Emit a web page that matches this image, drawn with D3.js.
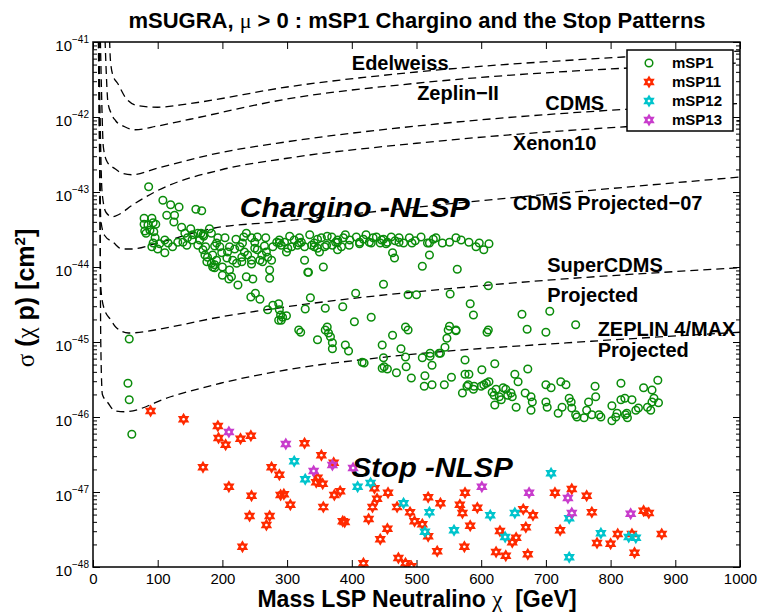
<!DOCTYPE html>
<html>
<head>
<meta charset="utf-8">
<script src="https://cdn.jsdelivr.net/npm/d3@7"></script>
<style>
  body { margin: 0; background: #fff; }
  text { font-family: "Liberation Sans", Arial, Helvetica, sans-serif; }
</style>
</head>
<body>
<svg></svg>
<script>
// limit curves: [mass GeV, log10(sigma / cm^2)]
const edelweiss = [[25,-40.8],[27,-41.25],[31,-41.45],[38,-41.55],[51,-41.75],[70,-41.85],[100,-41.87],[150,-41.82],[300,-41.6],[500,-41.4],[820,-41.2],[1000,-41.12]]
const zeplin2 = [[18,-40.8],[20,-41.3],[23,-41.8],[28,-41.95],[35,-42.05],[49,-42.13],[65,-42.17],[100,-42.12],[150,-42.03],[300,-41.76],[500,-41.55],[820,-41.35],[1000,-41.28]]
const cdms = [[11,-40.8],[13,-41.6],[16,-42.4],[22,-42.6],[34,-42.69],[45,-42.75],[60,-42.77],[100,-42.68],[200,-42.47],[300,-42.33],[500,-42.12],[800,-41.91],[1000,-41.82]]
const xenon10 = [[9,-40.8],[11,-42.0],[14,-43.0],[20,-43.27],[30,-43.33],[40,-43.3],[60,-43.18],[100,-42.98],[200,-42.7],[300,-42.55],[500,-42.35],[823,-42.13],[1000,-42.05]]
const cdmsProj07 = [[8,-40.8],[10,-42.2],[12,-43.37],[18,-43.58],[31,-43.67],[45,-43.76],[60,-43.76],[100,-43.68],[188,-43.48],[282,-43.4],[560,-43.15],[1000,-42.8]]
const superCdms = [[9,-40.8],[11,-43.5],[12,-44.27],[17,-44.55],[28,-44.71],[35,-44.8],[55,-44.88],[120,-44.8],[188,-44.68],[300,-44.53],[600,-44.25],[1000,-44.01]]
const zeplinMax = [[9,-40.8],[11,-43.5],[12,-45.0],[14.5,-45.7],[23,-45.81],[34,-45.92],[49,-45.93],[120,-45.73],[197,-45.55],[300,-45.37],[442,-45.21],[770,-44.99],[1000,-44.87]]

// model points: [mass GeV, log10(sigma / cm^2)]
const msp1 = [
  [56,-44.96],[54,-45.55],[56,-45.77],[60,-46.23],
  [86,-42.93],[108,-43.11],[120,-43.17],[133,-43.2],[159,-43.23],[168,-43.25],[114,-43.31],[126,-43.31],
  [79,-43.35],[91,-43.35],[79,-43.43],[85,-43.44],[93,-43.41],[97,-43.43],[80,-43.52],[88,-43.51],[94,-43.53],
  [125,-43.4],[137,-43.47],[151,-43.49],[142,-43.55],[167,-43.55],[170,-43.57],[180,-43.49],[183,-43.55],
  [193,-43.61],[191,-43.68],[96,-43.61],[111,-43.64],[103,-43.69],[91,-43.73],[100,-43.76],[111,-43.81],
  [123,-43.73],[139,-43.67],[153,-43.64],[145,-43.71],[162,-43.71],[165,-43.64],[170,-43.77],[173,-43.84],
  [177,-43.87],[176,-43.93],[183,-43.95],[185,-44.0],[191,-43.91],[196,-43.73],[199,-43.81],[208,-43.8],
  [207,-43.88],[200,-44.0],[211,-44.04],[214,-44.13],[200,-44.11],[210,-44.16],[224,-44.24],[237,-44.13],
  [247,-44.16],[273,-44.15],[216,-43.91],[222,-43.95],[230,-43.93],[227,-43.73],[234,-43.8],[230,-43.87],
  [233,-43.6],[237,-43.55],[245,-43.61],[250,-43.67],[239,-43.84],[245,-43.91],[245,-43.96],[254,-43.77],
  [261,-43.84],[258,-43.91],[262,-43.93],[268,-43.8],[270,-43.87],[276,-43.91],[273,-44.04],[278,-43.73],
  [284,-43.67],[288,-43.64],[291,-43.71],[296,-43.67],[301,-43.75],[307,-43.73],[311,-43.64],[316,-43.71],
  [322,-43.67],[327,-43.73],[327,-43.91],[333,-44.07],[338,-43.71],[342,-43.68],[347,-43.75],[353,-43.61],
  [356,-44.0],[358,-43.73],[369,-43.6],[370,-43.71],[378,-43.64],[384,-43.73],[387,-43.61],
  [82,-43.55],[93,-43.68],[116,-43.68],[131,-43.67],[146,-43.61],[154,-43.57],[162,-43.55],[174,-43.73],
  [185,-43.84],[188,-43.97],[188,-44.01],
  [244,-44.4],[251,-44.35],[258,-44.43],[270,-44.57],[278,-44.51],[287,-44.49],[288,-44.57],[290,-44.64],
  [287,-44.71],[293,-44.67],[299,-44.65],[291,-44.71],[318,-44.84],[321,-44.87],[328,-44.56],[336,-44.41],
  [332,-44.07],[359,-44.55],[386,-44.53],[406,-44.35],[430,-44.67],[404,-44.73],[347,-44.97],[359,-44.84],
  [362,-44.8],[364,-44.88],[367,-44.93],[370,-45.01],[370,-45.09],[390,-45.04],[395,-45.12],[416,-45.27],
  [419,-45.28],[447,-45.04],[449,-45.21],[450,-45.33],[469,-45.41],[484,-45.33],[463,-44.91],[483,-44.8],
  [487,-44.84],[476,-45.09],[483,-45.2],[487,-44.37],[500,-44.37],[509,-45.21],[524,-45.31],[521,-45.19],
  [492,-45.48],[513,-45.45],[524,-45.57],[512,-45.59],[543,-45.57],[554,-45.47],[544,-45.07],[547,-44.95],
  [549,-44.84],[561,-44.84],[552,-44.36],[537,-45.15],[583,-44.49],[588,-44.64],[575,-45.24],[575,-45.43],
  [580,-45.57],[589,-45.59],[601,-45.37],[604,-45.57],[611,-44.84],[611,-44.25],[621,-45.29],[663,-44.63],
  [706,-44.59],[746,-44.77],[671,-44.83],[700,-44.87],[609,-44.87],[561,-44.85],[551,-44.79],[521,-45.15],
  [535,-45.15],[447,-45.35],[455,-45.36],[581,-45.43],[571,-45.68],[578,-45.59],[588,-45.63],[600,-45.59],
  [608,-45.55],[612,-45.53],
  [617,-45.67],[620,-45.71],[623,-45.63],[628,-45.73],[621,-45.84],[631,-45.77],[634,-45.61],[638,-45.63],
  [641,-45.71],[646,-45.68],[648,-45.73],[654,-45.87],[657,-45.53],[652,-45.43],[668,-45.68],[672,-45.36],
  [677,-45.73],[679,-45.8],[677,-45.91],[700,-45.57],[700,-45.8],[702,-45.87],[708,-45.61],[723,-45.53],
  [731,-45.57],[725,-45.87],[719,-45.95],[736,-45.75],[739,-45.8],[740,-45.88],[746,-45.97],[748,-46.0],
  [759,-46.01],[763,-45.91],[766,-45.8],[777,-45.73],[776,-45.59],[771,-45.97],[782,-45.97],[785,-46.0],
  [802,-45.85],[802,-46.05],[808,-46.0],[810,-45.95],[816,-45.77],[816,-45.55],[822,-45.75],[823,-45.97],
  [825,-45.95],[833,-45.77],[826,-46.01],[839,-45.91],[843,-45.88],[851,-45.61],[857,-45.87],[864,-45.64],
  [864,-45.8],[867,-45.75],[873,-45.51],[874,-45.81],[862,-45.91],
  [390,-43.57],[397,-43.64],[407,-43.6],[412,-43.69],[418,-43.63],[422,-43.57],[427,-43.67],[433,-43.61],
  [438,-43.6],[444,-43.68],[449,-43.63],[455,-43.67],[461,-43.6],[467,-43.65],[473,-43.61],[480,-43.68],
  [489,-43.61],[498,-43.65],[507,-43.6],[517,-43.68],[526,-43.63],[530,-43.61],[551,-43.67],[561,-43.61],
  [569,-43.64],[581,-43.67],[592,-43.73],[597,-43.68],[604,-43.77],[612,-43.69],
  [171,-43.59],[204,-43.61],[221,-43.63],[254,-43.6],[267,-43.61],[304,-43.59],[319,-43.61],[335,-43.57],
  [347,-43.63],[362,-43.59],[375,-43.67],
  [463,-43.81],[466,-43.88],[520,-43.84],[509,-43.99],[563,-44.03],[449,-44.23],
  [188,-43.72],[219,-43.76],[265,-43.72],[299,-43.8],[350,-43.8],[378,-43.77],
  [211,-43.73],[231,-43.68],[250,-43.75],[288,-43.68],[319,-43.68],[342,-43.73],[361,-43.71],[378,-43.67],
  [396,-43.71],[412,-43.67],[430,-43.68],[446,-43.64],[453,-43.69],[473,-43.67],[493,-43.68],[520,-43.68],
  [540,-43.68]
]
const msp11 = [
  [89,-45.92],[140,-46.03],[193,-46.12],[194,-46.28],[205,-46.37],[228,-46.29],[244,-46.25],[170,-46.67],
  [210,-46.93],[245,-47.05],[231,-47.73],[242,-47.32],[268,-47.44],[273,-47.32],[276,-46.67],[288,-46.77],
  [290,-47.04],[295,-47.03],[305,-47.17],[327,-46.35],[347,-46.81],[345,-46.87],[353,-46.51],[355,-46.89],
  [356,-47.2],[372,-46.61],[373,-47.04],[382,-46.99],[386,-47.39],[389,-47.4],[418,-47.95],[426,-47.36],
  [432,-47.2],[435,-46.95],[439,-47.09],[444,-47.63],[455,-47.49],[456,-47.01],[470,-47.2],[472,-47.88],
  [483,-47.95],[490,-47.27],[497,-47.39],[509,-47.43],[518,-47.07],[518,-47.59],[532,-47.79],[537,-47.15],
  [567,-47.17],[571,-47.28],[575,-47.01],[583,-47.45],[574,-47.73],[594,-47.21],[623,-47.8],[638,-47.85],
  [629,-47.52],[648,-47.67],[654,-47.61],[665,-47.23],[669,-47.47],[672,-47.83],[680,-47.31],[714,-47.01],
  [722,-47.51],[740,-46.96],[763,-47.05],[771,-47.27],[779,-47.68],[800,-47.69],[811,-47.56],[833,-47.56],
  [837,-47.81],[851,-47.25],[859,-47.28],[879,-47.56],[492,-47.99]
]
const msp12 = [
  [311,-46.59],[328,-46.83],[409,-46.93],[429,-46.88],[480,-47.15],[520,-47.27],[513,-47.53],[558,-47.51],
  [614,-47.31],[637,-47.6],[652,-47.28],[708,-46.75],[736,-47.35],[736,-47.87],[785,-47.55],[828,-47.6],[839,-47.61]
]
const msp13 = [
  [210,-46.2],[298,-46.36],[341,-46.72],[370,-46.64],[402,-46.68],[601,-46.93],[674,-47.01],[734,-47.08],
  [740,-47.28],[831,-47.29]
]

const xTicks = [0, 100, 200, 300, 400, 500, 600, 700, 800, 900, 1000]
const yDecades = [-48, -47, -46, -45, -44, -43, -42, -41]

const curves = [edelweiss, zeplin2, cdms, xenon10, cdmsProj07, superCdms, zeplinMax]
const curveLabels = [
  { text: "Edelweiss", at: [400, -41.37] },
  { text: "Zeplin\u2212II", at: [501, -41.77] },
  { text: "CDMS", at: [699, -41.91] },
  { text: "Xenon10", at: [649, -42.44] },
  { text: "CDMS Projected\u221207", at: [649, -43.24] },
  { text: "SuperCDMS", at: [702, -44.07] },
  { text: "Projected", at: [702, -44.47] },
  { text: "ZEPLIN 4/MAX", at: [780, -44.92] },
  { text: "Projected", at: [780, -45.2] }
]

const series = [
  { name: "mSP1", data: msp1, color: "#0a8c0a", shape: "circle" },
  { name: "mSP11", data: msp11, color: "#ff2a00", shape: "star" },
  { name: "mSP12", data: msp12, color: "#00c4cc", shape: "star" },
  { name: "mSP13", data: msp13, color: "#c83ccc", shape: "star" }
]

const svg = d3.select("svg")
  .attr("width", 774)
  .attr("height", 616)

const x = d3.scaleLinear().domain([0, 1000]).range([93, 740])
const y = d3.scaleLog().domain([1e-48, 1e-41]).range([567, 42])
const sig = (lg) => Math.pow(10, lg)

svg.append("clipPath").attr("id", "plot")
  .append("rect")
  .attr("x", 93).attr("y", 42).attr("width", 647).attr("height", 525)

// axes
const minors = []
yDecades.slice(0, -1).forEach((e) => {
  for (let k = 2; k <= 9; k++) minors.push(k * sig(e))
})

const addAxis = (axis, tx, ty, cls) => {
  const g = svg.append("g").attr("class", cls)
    .attr("transform", `translate(${tx}, ${ty})`)
    .call(axis)
  g.select(".domain").remove()
  g.selectAll("line").attr("stroke", "#000").attr("stroke-width", 1)
  return g
}

const axisBottom = addAxis(d3.axisBottom(x).tickValues(xTicks).tickSizeInner(-7).tickSizeOuter(0).tickPadding(6).tickFormat(d3.format("d")), 0, 567, "x-axis")
axisBottom.selectAll("text")
  .attr("font-size", 15)
  .attr("font-family", "Liberation Sans, Arial, sans-serif")
  .attr("fill", "#000")
addAxis(d3.axisTop(x).tickValues(xTicks).tickSizeInner(-7).tickSizeOuter(0).tickFormat(""), 0, 42, "x-top")

const yMajor = addAxis(d3.axisLeft(y).tickValues(yDecades.map(sig)).tickSizeInner(-7).tickSizeOuter(0).tickFormat(""), 93, 0, "y-axis")
addAxis(d3.axisLeft(y).tickValues(minors).tickSizeInner(-4).tickSizeOuter(0).tickFormat(""), 93, 0, "y-minor")
addAxis(d3.axisRight(y).tickValues(yDecades.map(sig)).tickSizeInner(-7).tickSizeOuter(0).tickFormat(""), 740, 0, "y-right")
addAxis(d3.axisRight(y).tickValues(minors).tickSizeInner(-4).tickSizeOuter(0).tickFormat(""), 740, 0, "y-right-minor")

yMajor.selectAll(".tick").each(function(d) {
  const t = d3.select(this).append("text")
    .attr("x", -4)
    .attr("y", 8)
    .attr("text-anchor", "end")
    .attr("fill", "#000")
    .attr("font-size", 15)
    .attr("font-family", "Liberation Sans, Arial, sans-serif")
  t.append("tspan").text("10")
  t.append("tspan")
    .attr("font-size", 10)
    .attr("dy", -8)
    .text("\u2212" + Math.round(-Math.log10(d)))
})

// limit curves
const line = d3.line()
  .x((d) => x(d[0]))
  .y((d) => y(sig(d[1])))
  .curve(d3.curveMonotoneX)

svg.append("g").attr("clip-path", "url(#plot)")
  .selectAll("path")
  .data(curves)
  .enter()
  .append("path")
  .attr("d", line)
  .attr("fill", "none")
  .attr("stroke", "#000")
  .attr("stroke-width", 1.3)
  .attr("stroke-dasharray", "8,5")

// markers
const star = (r) => {
  const p = []
  ;[-90, 90].forEach((a0) => {
    const pts = [0, 120, 240].map((a) => {
      const t = (a0 + a) * Math.PI / 180
      return [r * Math.cos(t), r * Math.sin(t)]
    })
    p.push("M" + pts.map((q) => q[0].toFixed(2) + "," + q[1].toFixed(2)).join("L") + "Z")
  })
  return p.join("")
}

const drawMarker = (sel, s) => {
  if (s.shape === "circle") {
    sel.append("circle").attr("r", 3.8)
      .attr("fill", "none").attr("stroke", s.color).attr("stroke-width", 1.5)
  } else {
    sel.append("path").attr("d", star(4.6))
      .attr("fill", "none").attr("stroke", s.color).attr("stroke-width", 2)
      .attr("stroke-linejoin", "miter")
  }
}

const pointsLayer = svg.append("g").attr("clip-path", "url(#plot)")
series.forEach((s) => {
  pointsLayer.append("g")
    .selectAll("g")
    .data(s.data)
    .enter()
    .append("g")
    .attr("transform", (d) => `translate(${x(d[0])}, ${y(sig(d[1]))})`)
    .each(function() { drawMarker(d3.select(this), s) })
})

// curve labels
svg.append("g")
  .selectAll("text")
  .data(curveLabels)
  .enter()
  .append("text")
  .attr("x", (d) => x(d.at[0]))
  .attr("y", (d) => y(sig(d.at[1])))
  .attr("font-size", 20)
  .attr("font-weight", "bold")
  .text((d) => d.text)

// region labels
const regionLabels = [
  { text: "Chargino -NLSP", at: [227, -43.33], width: 230 },
  { text: "Stop -NLSP", at: [400, -46.8], width: 161 }
]
svg.append("g")
  .selectAll("text")
  .data(regionLabels)
  .enter()
  .append("text")
  .attr("x", (d) => x(d.at[0]))
  .attr("y", (d) => y(sig(d.at[1])))
  .attr("font-family", "Open Sans, sans-serif")
  .attr("font-size", 27)
  .attr("font-weight", 800)
  .attr("font-style", "italic")
  .attr("textLength", (d) => d.width)
  .attr("lengthAdjust", "spacingAndGlyphs")
  .text((d) => d.text)

// frame
svg.append("rect")
  .attr("x", 93).attr("y", 42).attr("width", 647).attr("height", 525)
  .attr("fill", "none").attr("stroke", "#000").attr("stroke-width", 1.5)

// legend
const legend = svg.append("g").attr("transform", "translate(627, 50)")
legend.append("rect")
  .attr("width", 106).attr("height", 81)
  .attr("fill", "#fff").attr("stroke", "#000").attr("stroke-width", 1.5)
series.forEach((s, i) => {
  const row = legend.append("g").attr("transform", `translate(22, ${13 + i * 19})`)
  drawMarker(row, s)
  row.append("text")
    .attr("x", 23).attr("y", 5)
    .attr("font-size", 15).attr("font-weight", "bold")
    .text(s.name)
})

// titles
svg.append("text")
  .attr("x", 417).attr("y", 28)
  .attr("text-anchor", "middle")
  .attr("font-size", 22).attr("font-weight", "bold")
  .html('mSUGRA, <tspan font-family="Liberation Serif, serif" font-weight="normal">\u03bc</tspan> &gt; 0 : mSP1 Chargino and the Stop Patterns')

svg.append("text")
  .attr("x", 417).attr("y", 607)
  .attr("text-anchor", "middle")
  .attr("font-size", 23).attr("font-weight", "bold")
  .html('Mass LSP Neutralino <tspan font-family="Liberation Serif, serif" font-weight="normal">\u03c7</tspan>\u00a0\u00a0[GeV]')

svg.append("text")
  .attr("transform", "translate(34, 298) rotate(-90)")
  .attr("text-anchor", "middle")
  .attr("font-size", 25).attr("font-weight", "bold")
  .html('<tspan font-family="Liberation Serif, serif" font-weight="normal">\u03c3</tspan> (<tspan font-family="Liberation Serif, serif" font-weight="normal">\u03c7</tspan> p) [cm<tspan font-size="15" dy="-9">2</tspan><tspan dy="9">]</tspan>')
</script>
</body>
</html>
